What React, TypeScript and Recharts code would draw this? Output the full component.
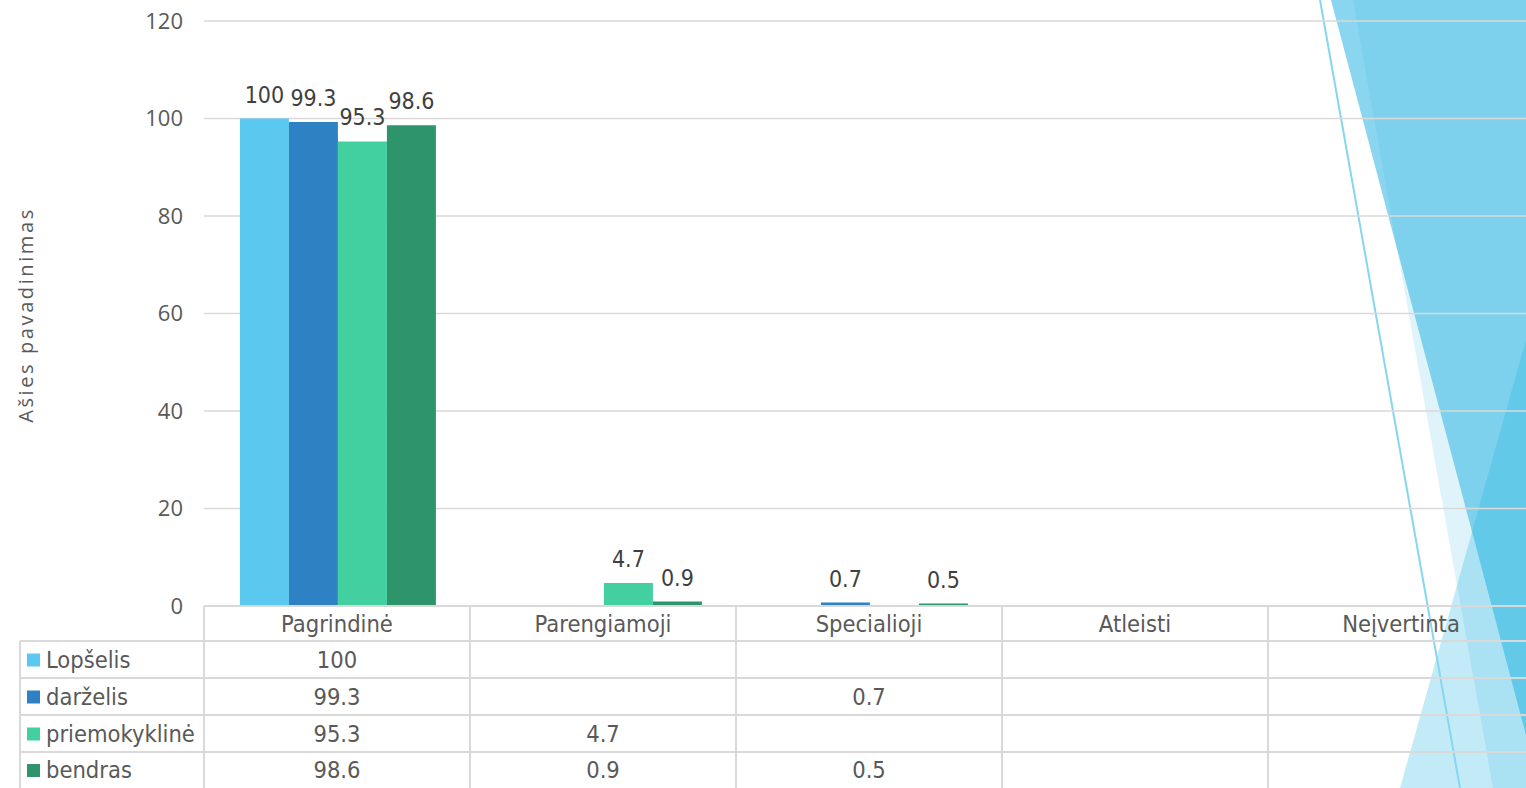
import React from 'react';
import { BarChart, Bar, XAxis, YAxis, CartesianGrid, LabelList } from 'recharts';

const categories = ['Pagrindinė', 'Parengiamoji', 'Specialioji', 'Atleisti', 'Neįvertinta'];
const lopselis: (number | null)[] = [100, null, null, null, null];
const darzelis: (number | null)[] = [99.3, null, 0.7, null, null];
const priemokykline: (number | null)[] = [95.3, 4.7, null, null, null];
const bendras: (number | null)[] = [98.6, 0.9, 0.5, null, null];
const seriesNames = ['Lopšelis', 'darželis', 'priemokyklinė', 'bendras'];
const seriesKeys = ['lopselis', 'darzelis', 'priemokykline', 'bendras'];
const seriesColors = ['#5bc9ef', '#2e81c3', '#42d0a1', '#2e946c'];
const seriesValues = [lopselis, darzelis, priemokykline, bendras];
const yTicks = [0, 20, 40, 60, 80, 100, 120];
const axisTitle = 'Ašies pavadinimas';

const data = categories.map((name, i) => {
  const row: Record<string, string | number | null> = { name };
  seriesKeys.forEach((k, s) => {
    row[k] = seriesValues[s][i];
  });
  return row;
});

const W = 1540;
const H = 788;
const MARGIN = { top: 21, right: 14, bottom: 0, left: 0 };
const Y_AXIS_W = 196;
const X_AXIS_H = 182;
const BW = (W - MARGIN.right - MARGIN.left - Y_AXIS_W) / categories.length;
const ROWS = [0, 35, 72, 109, 146, 182];
const TABLE_LEFT = 12;
const GRID = '#d9d9d9';
const TXT = '#595959';
const TABLE_FONT = '"DejaVu Sans Condensed", "DejaVu Sans", sans-serif';
const AXIS_FONT = '"Open Sans", sans-serif';
const TABLE_SIZE = 23.5;

const TableTick = (props: any) => {
  const { x, y, payload } = props;
  const i = categories.indexOf(payload.value);
  const left = x - BW / 2;
  const right = x + BW / 2;
  const els: React.ReactNode[] = [];
  els.push(<line key="vl" x1={left} x2={left} y1={y} y2={y + ROWS[5]} stroke={GRID} strokeWidth={2} />);
  els.push(<line key="vr" x1={right} x2={right} y1={y} y2={y + ROWS[5]} stroke={GRID} strokeWidth={2} />);
  for (let r = 0; r < 5; r++) {
    els.push(
      <line key={'h' + r} x1={left} x2={right} y1={y + ROWS[r]} y2={y + ROWS[r]} stroke={GRID} strokeWidth={2} />
    );
  }
  els.push(
    <text key="hdr" x={x} y={y + (ROWS[0] + ROWS[1]) / 2 + 8} textAnchor="middle" fontFamily={TABLE_FONT} fontSize={TABLE_SIZE} fill={TXT}>
      {payload.value}
    </text>
  );
  seriesValues.forEach((vals, s) => {
    const v = vals[i];
    if (v != null) {
      els.push(
        <text key={'v' + s} x={x} y={y + (ROWS[s + 1] + ROWS[s + 2]) / 2 + 8} textAnchor="middle" fontFamily={TABLE_FONT} fontSize={TABLE_SIZE} fill={TXT}>
          {String(v)}
        </text>
      );
    }
  });
  if (i === 0) {
    els.push(<line key="ll" x1={TABLE_LEFT} x2={TABLE_LEFT} y1={y + ROWS[1]} y2={y + ROWS[5]} stroke={GRID} strokeWidth={2} />);
    for (let r = 1; r < 5; r++) {
      els.push(
        <line key={'lh' + r} x1={TABLE_LEFT} x2={left} y1={y + ROWS[r]} y2={y + ROWS[r]} stroke={GRID} strokeWidth={2} />
      );
    }
    seriesNames.forEach((nm, s) => {
      const cy = y + (ROWS[s + 1] + ROWS[s + 2]) / 2;
      els.push(<rect key={'sq' + s} x={TABLE_LEFT + 7} y={cy - 6} width={13} height={13} fill={seriesColors[s]} />);
      els.push(
        <text key={'sn' + s} x={TABLE_LEFT + 26} y={cy + 8} fontFamily={TABLE_FONT} fontSize={TABLE_SIZE} fill={TXT}>
          {nm}
        </text>
      );
    });
  }
  return <g>{els}</g>;
};

const renderValueLabel = (props: any) => {
  const { x, y, width, value } = props;
  if (value == null || isNaN(Number(x)) || isNaN(Number(y))) return null;
  return (
    <text x={Number(x) + Number(width) / 2} y={Number(y) - 16} textAnchor="middle" fontFamily={TABLE_FONT} fontSize={23} fill="#404040">
      {value}
    </text>
  );
};

const renderAxisTitle = () => {
  const cx = 25;
  const cy = 315;
  return (
    <text x={cx} y={cy} transform={`rotate(-90 ${cx} ${cy})`} textAnchor="middle" fontFamily={AXIS_FONT} fontSize={20} letterSpacing={2.6} fill={TXT}>
      {axisTitle}
    </text>
  );
};

const Decoration = () => (
  <svg width={1526} height={788} style={{ position: 'absolute', left: 0, top: 0 }}>
    <polygon points="1331,0 1540,0 1540,788" fill="#8ad6f0" />
    <polygon points="1353,0 1540,0 1540,788 1493,788" fill="#43b8e2" fillOpacity={0.17} />
    <polygon points="1540,290 1540,788 1400,788" fill="#18b2e0" fillOpacity={0.26} />
    <line x1={1320} y1={0} x2={1460} y2={788} stroke="#86d6f0" strokeWidth={2} />
  </svg>
);

export default function App() {
  return (
    <div style={{ position: 'fixed', left: 0, top: 0, width: 1526, height: 788, overflow: 'hidden', background: '#ffffff' }}>
      <Decoration />
      <div style={{ position: 'absolute', left: 8, top: 0 }}>
        <BarChart width={W} height={H} data={data} margin={MARGIN} barCategoryGap="13.5%" barGap={0}>
          <CartesianGrid horizontal vertical={false} stroke={GRID} strokeWidth={1.5} />
          <XAxis
            dataKey="name"
            height={X_AXIS_H}
            interval={0}
            tickLine={false}
            axisLine={false}
            tickSize={0}
            tickMargin={0}
            tick={(p: any) => <TableTick {...p} />}
          />
          <YAxis
            width={Y_AXIS_W}
            domain={[0, 120]}
            ticks={yTicks}
            interval={0}
            tickLine={false}
            axisLine={false}
            tickSize={0}
            tickMargin={21}
            tick={{ fontFamily: AXIS_FONT, fontSize: 22, fill: TXT }}
            label={{ content: renderAxisTitle }}
          />
          {seriesKeys.map((k, s) => (
            <Bar key={k} dataKey={k} name={seriesNames[s]} fill={seriesColors[s]} isAnimationActive={false}>
              <LabelList dataKey={k} content={renderValueLabel} />
            </Bar>
          ))}
        </BarChart>
      </div>
    </div>
  );
}
